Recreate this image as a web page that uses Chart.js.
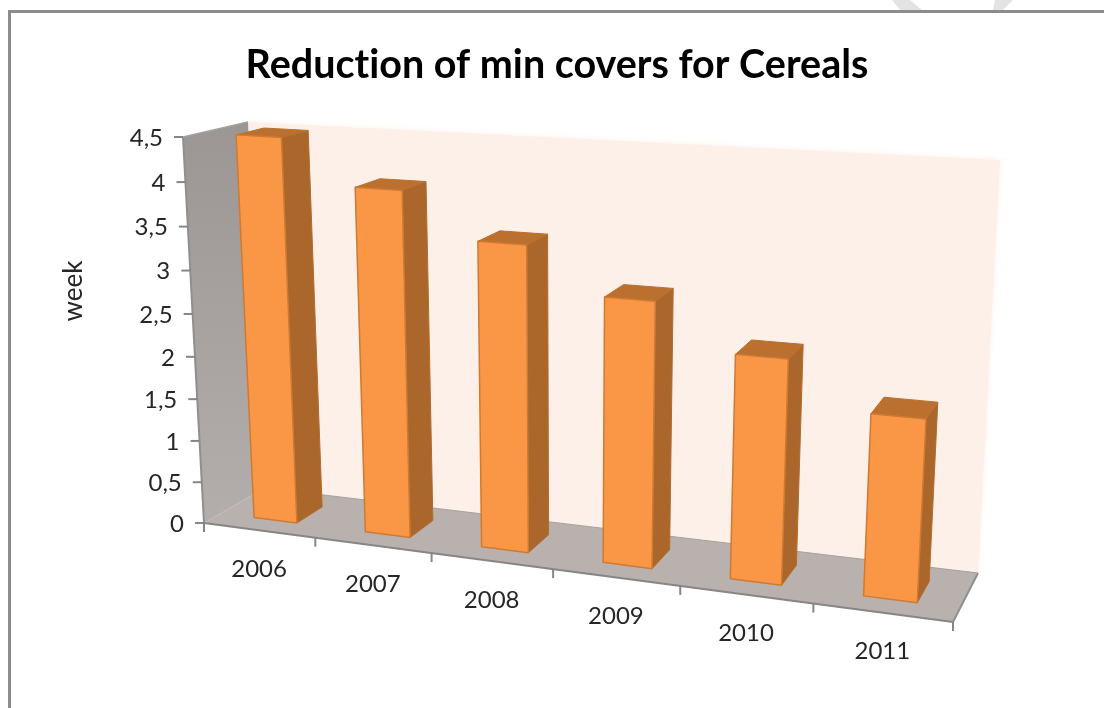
<!DOCTYPE html>
<html>
<head>
<meta charset="utf-8">
<style>html,body{margin:0;padding:0;background:#fff}canvas{display:block}</style>
<script src="https://cdn.jsdelivr.net/npm/chart.js@4"></script>
</head>
<body>
<canvas id="c" width="1104" height="708"></canvas>
<script>
const categories = ['2006','2007','2008','2009','2010','2011'];
const values = [4.5,4,3.5,3,2.5,2];
const chartTitle = 'Reduction of min covers for Cereals';
const yAxisTitle = 'week';
const FONT = 'Lato, Carlito, "Open Sans", sans-serif';

/* 3D frame of the plot: corners of the box as they appear on screen */
const box = {
  fb0:[204,523], fb1:[953,622], ft0:[183,137], ft1:[976,186],
  bb0:[265,488], bb1:[978,573], bt0:[248,122], bt1:[1000,160]
};
const warpU = 0.873, warpV = 0.945, depthFront = 0.28, depthBack = 0.72;
const warp = (t,a) => a*t/(1+(a-1)*t);
const mix = (p,q,t) => [p[0]+(q[0]-p[0])*t, p[1]+(q[1]-p[1])*t];
function P(u,v,d){
  const U=warp(u,warpU), V=warp(v,warpV);
  const f=mix(mix(box.fb0,box.fb1,U),mix(box.ft0,box.ft1,U),V);
  const b=mix(mix(box.bb0,box.bb1,U),mix(box.bt0,box.bt1,U),V);
  return mix(f,b,d);
}
function poly(ctx,pts,fill,stroke,lw){
  ctx.beginPath();
  pts.forEach((p,i)=> i?ctx.lineTo(p[0],p[1]):ctx.moveTo(p[0],p[1]));
  ctx.closePath();
  if(fill){ctx.fillStyle=fill;ctx.fill();}
  if(stroke){ctx.strokeStyle=stroke;ctx.lineWidth=lw||1;ctx.lineJoin='round';ctx.stroke();}
}
function line(ctx,a,b,color,lw){
  ctx.beginPath();ctx.moveTo(a[0],a[1]);ctx.lineTo(b[0],b[1]);
  ctx.strokeStyle=color;ctx.lineWidth=lw;ctx.stroke();
}
const fmt = v => String(v).replace('.',',');

const scene = {
  id:'scene',
  beforeDraw(chart){
    const ctx=chart.ctx;
    ctx.textRendering='optimizeSpeed';
    ctx.save();
    ctx.fillStyle='#fff';ctx.fillRect(0,0,1104,708);
    /* background marks above the frame */
    poly(ctx,[[892,0],[910,0],[922,10],[900,10]],'#e3e3e3');
    poly(ctx,[[995,0],[1013,0],[1003,10],[993,10]],'#e3e3e3');
    /* frame */
    ctx.fillStyle='#8c8c8c';
    ctx.fillRect(8,10,1096,3);
    ctx.fillRect(8,10,3,698);
    ctx.restore();
  },
  beforeDatasetsDraw(chart){
    const ctx=chart.ctx, y=chart.scales.y;
    ctx.save();
    ctx.textRendering='auto';
    /* back wall */
    ctx.save();
    ctx.shadowColor='#fdf1ea';ctx.shadowBlur=6;
    poly(ctx,[P(0,0,1),P(1,0,1),P(1,1,1),P(0,1,1)],'#fdf0e9');
    ctx.restore();
    /* left wall */
    const g=ctx.createLinearGradient(0,130,0,520);
    g.addColorStop(0,'#9c9795');g.addColorStop(1,'#b3adab');
    poly(ctx,[P(0,0,0),P(0,0,1),P(0,1,1),P(0,1,0)],g);
    /* floor */
    poly(ctx,[P(0,0,0),P(1,0,0),P(1,0,1),P(0,0,1)],'#b9b1ae');
    line(ctx,P(0,0,1),P(1,0,1),'#a7a09e',1);
    line(ctx,P(0,0,0),P(0,1,0),'#8f8f8f',2);
    line(ctx,P(0,1,0),P(0,1,1),'#a3a09f',1.5);
    line(ctx,P(0,0,0),P(1,0,0),'#868686',2);
    line(ctx,P(1,0,0),P(1,0,1),'#8f8f8f',2);
    /* y ticks + labels */
    ctx.font='24px '+FONT;ctx.fillStyle='#262626';ctx.textAlign='right';ctx.textBaseline='middle';
    y.ticks.forEach(t=>{
      const v=(y.bottom-y.getPixelForValue(t.value))/(y.bottom-y.top);
      const p=P(0,v,0);
      line(ctx,[p[0]-9,p[1]],p,'#868686',2);
      ctx.fillStyle='#262626';
      ctx.fillText(fmt(t.value),p[0]-20,p[1]+1);
    });
    /* x ticks + labels */
    const n=categories.length;
    for(let k=0;k<=n;k++){
      const p=P(k/n,0,0);
      line(ctx,p,[p[0],p[1]+9],'#868686',2);
    }
    ctx.textAlign='center';
    const xs=chart.scales.x, a=chart.chartArea;
    categories.forEach((c,i)=>{
      const p=P((xs.getPixelForValue(i)-a.left)/a.width,0,0);
      ctx.fillStyle='#262626';
      ctx.fillText(c,p[0],p[1]+39);
    });
    /* axis title */
    ctx.save();
    ctx.translate(74,291);ctx.rotate(-Math.PI/2);
    ctx.font='26px '+FONT;
    ctx.fillStyle='#262626';
    ctx.fillText(yAxisTitle,0,0);
    ctx.restore();
    ctx.restore();
  },
  afterDatasetsDraw(chart){
    const ctx=chart.ctx, a=chart.chartArea, y=chart.scales.y;
    const meta=chart.getDatasetMeta(0);
    ctx.save();
    meta.data.forEach(el=>{
      const pr=el.getProps(['x','y','base','width'],true);
      const u0=(pr.x-pr.width/2-a.left)/a.width, u1=(pr.x+pr.width/2-a.left)/a.width;
      const v=(y.bottom-pr.y)/(y.bottom-y.top);
      const d0=depthFront,d1=depthBack;
      /* right side */
      poly(ctx,[P(u1,0,d0),P(u1,0,d1),P(u1,v,d1),P(u1,v,d0)],'#aa662b','#b56c2c',1);
      /* top */
      poly(ctx,[P(u0,v,d0),P(u1,v,d0),P(u1,v,d1),P(u0,v,d1)],'#bb7030','#b8702f',1);
      /* front */
      poly(ctx,[P(u0,0,d0),P(u1,0,d0),P(u1,v,d0),P(u0,v,d0)],'#f99747','#cf7a30',1.5);
    });
    ctx.restore();
  }
};

new Chart(document.getElementById('c'),{
  type:'bar',
  data:{labels:categories,datasets:[{data:values,backgroundColor:'rgba(0,0,0,0)',borderWidth:0,barPercentage:0.39,categoryPercentage:1}]},
  plugins:[scene],
  options:{
    responsive:false,animation:false,
    layout:{padding:{left:10,top:0}},
    plugins:{
      legend:{display:false},tooltip:{enabled:false},
      title:{display:true,text:chartTitle,fullSize:false,color:'#000',
        font:{family:FONT,size:39.5,weight:'bold'},padding:{top:42,bottom:20}}
    },
    scales:{
      x:{display:false},
      y:{display:false,min:0,max:4.5,ticks:{stepSize:0.5}}
    }
  }
});
</script>
</body>
</html>
